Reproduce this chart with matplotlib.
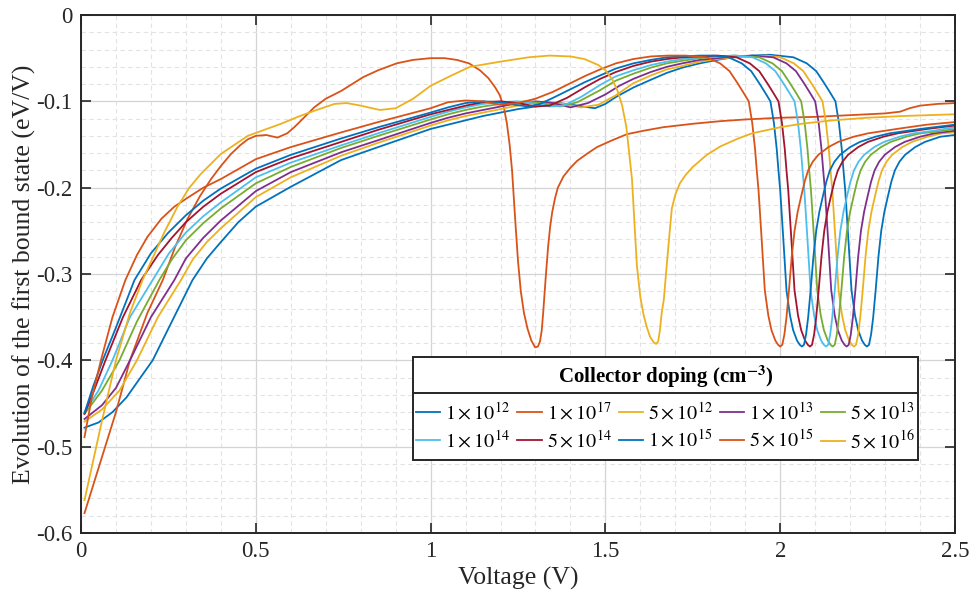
import matplotlib
matplotlib.use("Agg")
import matplotlib.pyplot as plt
from matplotlib.lines import Line2D
from matplotlib.patches import Rectangle
from matplotlib.ticker import MultipleLocator, FuncFormatter

plt.rcParams['font.family'] = ['Liberation Serif', 'DejaVu Serif']
plt.rcParams['mathtext.fontset'] = 'stix'
plt.rcParams['axes.unicode_minus'] = False

# ---------------- data ----------------
labels = [r'$1\times10^{12}$', r'$1\times10^{17}$', r'$5\times10^{12}$', r'$1\times10^{13}$', r'$5\times10^{13}$',
          r'$1\times10^{14}$', r'$5\times10^{14}$', r'$1\times10^{15}$', r'$5\times10^{15}$', r'$5\times10^{16}$']
colors = ['#0072BD', '#D95319', '#EDB120', '#7E2F8E', '#77AC30',
          '#4DBEEE', '#A2142F', '#0072BD', '#D95319', '#EDB120']
legend_title = 'Collector doping (cm$^{\\mathbf{-3}}$)'

v_1e12 = [0.01, 0.05, 0.09, 0.13, 0.17, 0.205, 0.26, 0.319, 0.36, 0.4, 0.45, 0.5, 0.6, 0.744, 0.85,
          1.0, 1.05, 1.1, 1.15, 1.2, 1.25, 1.3, 1.37, 1.42, 1.47, 1.5, 1.53, 1.58, 1.63, 1.676, 1.72, 1.77, 1.82,
          1.865, 1.92, 1.97,
          2.038, 2.076, 2.103, 2.126, 2.143, 2.158, 2.168, 2.176, 2.181, 2.186, 2.195, 2.204, 2.214, 2.223, 2.234,
          2.242, 2.248, 2.254, 2.26, 2.266, 2.273, 2.281, 2.289, 2.298, 2.308, 2.318, 2.328, 2.341, 2.357, 2.386,
          2.414, 2.458, 2.5]
y_1e12 = [-0.478, -0.472, -0.46, -0.443, -0.42, -0.40, -0.355, -0.307, -0.282, -0.263, -0.24, -0.222, -0.199,
          -0.168, -0.153,
          -0.132, -0.127, -0.122, -0.117, -0.113, -0.109, -0.106, -0.102, -0.105, -0.108, -0.103, -0.095, -0.084,
          -0.075, -0.067, -0.061, -0.056, -0.052, -0.049, -0.047, -0.046,
          -0.049, -0.056, -0.065, -0.079, -0.09, -0.1, -0.125, -0.155, -0.18, -0.203, -0.26, -0.319, -0.348,
          -0.365, -0.377, -0.382, -0.384, -0.382, -0.37, -0.35, -0.319, -0.28, -0.25, -0.228, -0.21, -0.193,
          -0.18, -0.17, -0.162, -0.153, -0.147, -0.141, -0.139]

v_1e17 = [0.01, 0.05, 0.1, 0.14, 0.19, 0.234, 0.27, 0.305, 0.34, 0.372, 0.4, 0.429, 0.455, 0.477, 0.5, 0.53,
          0.562, 0.59, 0.61, 0.64, 0.667, 0.7, 0.744, 0.807, 0.85, 0.903, 0.95, 1.0, 1.04, 1.075, 1.11, 1.141,
          1.165, 1.185, 1.198, 1.21, 1.218, 1.226, 1.233, 1.242, 1.25, 1.258, 1.267, 1.277, 1.288, 1.299, 1.307,
          1.313, 1.318, 1.322, 1.33, 1.336, 1.342, 1.348, 1.356, 1.364, 1.38, 1.4, 1.419, 1.45, 1.476, 1.52, 1.562,
          1.61, 1.665, 1.75, 1.828, 1.9, 2.0, 2.1, 2.2, 2.3, 2.343, 2.37, 2.40, 2.45, 2.5]
y_1e17 = [-0.577, -0.525, -0.46, -0.40, -0.345, -0.307, -0.268, -0.236, -0.21, -0.19, -0.175, -0.161, -0.151,
          -0.144, -0.14, -0.139, -0.142, -0.137, -0.13, -0.118, -0.107, -0.097, -0.088, -0.072, -0.064, -0.056,
          -0.052, -0.050, -0.050, -0.052, -0.056, -0.064, -0.073, -0.084, -0.093, -0.108, -0.125, -0.15, -0.18,
          -0.237, -0.285, -0.32, -0.345, -0.363, -0.377, -0.385, -0.384, -0.378, -0.365, -0.345, -0.3, -0.269,
          -0.245, -0.228, -0.212, -0.2, -0.187, -0.177, -0.169, -0.16, -0.153, -0.145, -0.138, -0.134, -0.130,
          -0.126, -0.123, -0.121, -0.119, -0.118, -0.116, -0.114, -0.112, -0.108, -0.105, -0.103, -0.102]

v_5e12 = [0.01, 0.06, 0.11, 0.16, 0.22, 0.286, 0.32, 0.36, 0.4, 0.5, 0.6, 0.744, 0.85,
          1.0, 1.05, 1.1, 1.15, 1.2, 1.26, 1.33, 1.38, 1.43, 1.48, 1.53, 1.58, 1.63, 1.676, 1.72, 1.77, 1.82, 1.87,
          1.92, 1.96,
          2.001, 2.039, 2.066, 2.089, 2.106, 2.121, 2.131, 2.139, 2.144, 2.149, 2.158, 2.167, 2.177, 2.186, 2.197,
          2.205, 2.211, 2.217, 2.223, 2.229, 2.236, 2.244, 2.252, 2.261, 2.271, 2.281, 2.291, 2.304, 2.32, 2.349,
          2.377, 2.421, 2.463, 2.5]
y_5e12 = [-0.471, -0.457, -0.435, -0.40, -0.35, -0.307, -0.283, -0.263, -0.247, -0.211, -0.188, -0.163, -0.148,
          -0.128, -0.122, -0.117, -0.113, -0.109, -0.104, -0.1, -0.103, -0.107, -0.104, -0.093, -0.079, -0.07,
          -0.063, -0.059, -0.054, -0.051, -0.049, -0.048, -0.047,
          -0.049, -0.056, -0.065, -0.079, -0.09, -0.1, -0.125, -0.155, -0.18, -0.203, -0.26, -0.319, -0.348,
          -0.365, -0.377, -0.382, -0.384, -0.382, -0.37, -0.35, -0.319, -0.28, -0.25, -0.228, -0.21, -0.193,
          -0.18, -0.17, -0.162, -0.153, -0.147, -0.141, -0.137, -0.136]

v_1e13 = [0.01, 0.06, 0.1, 0.14, 0.2, 0.267, 0.3, 0.35, 0.4, 0.5, 0.6, 0.744, 0.85,
          1.0, 1.05, 1.1, 1.15, 1.2, 1.25, 1.3, 1.35, 1.4, 1.45, 1.5, 1.54, 1.58, 1.63, 1.676, 1.72, 1.77, 1.82,
          1.87, 1.92,
          1.98, 2.018, 2.045, 2.068, 2.085, 2.1, 2.11, 2.118, 2.123, 2.128, 2.137, 2.146, 2.156, 2.165, 2.176,
          2.184, 2.19, 2.196, 2.202, 2.208, 2.215, 2.223, 2.231, 2.24, 2.25, 2.26, 2.27, 2.283, 2.299, 2.328,
          2.356, 2.4, 2.442, 2.5]
y_1e13 = [-0.468, -0.452, -0.432, -0.40, -0.35, -0.307, -0.282, -0.258, -0.238, -0.204, -0.182, -0.159, -0.145,
          -0.125, -0.119, -0.114, -0.11, -0.106, -0.102, -0.1, -0.102, -0.107, -0.102, -0.092, -0.082, -0.074,
          -0.066, -0.06, -0.056, -0.052, -0.05, -0.048, -0.047,
          -0.049, -0.056, -0.065, -0.079, -0.09, -0.1, -0.125, -0.155, -0.18, -0.203, -0.26, -0.319, -0.348,
          -0.365, -0.377, -0.382, -0.384, -0.382, -0.37, -0.35, -0.319, -0.28, -0.25, -0.228, -0.21, -0.193,
          -0.18, -0.17, -0.162, -0.153, -0.147, -0.141, -0.137, -0.134]

v_5e13 = [0.01, 0.06, 0.11, 0.16, 0.224, 0.26, 0.3, 0.35, 0.4, 0.5, 0.6, 0.744, 0.85,
          1.0, 1.05, 1.1, 1.15, 1.2, 1.27, 1.32, 1.37, 1.42, 1.485, 1.53, 1.58, 1.63, 1.676, 1.72, 1.77, 1.82, 1.87,
          1.94, 1.978, 2.005, 2.028, 2.045, 2.06, 2.07, 2.078, 2.083, 2.088, 2.097, 2.106, 2.116, 2.125, 2.136,
          2.144, 2.15, 2.156, 2.162, 2.168, 2.175, 2.183, 2.191, 2.2, 2.21, 2.22, 2.23, 2.243, 2.259, 2.288,
          2.316, 2.36, 2.402, 2.45, 2.5]
y_5e13 = [-0.462, -0.435, -0.40, -0.355, -0.307, -0.283, -0.261, -0.241, -0.224, -0.195, -0.176, -0.154, -0.14,
          -0.121, -0.115, -0.11, -0.106, -0.103, -0.1, -0.102, -0.106, -0.101, -0.087, -0.076, -0.068, -0.061,
          -0.056, -0.053, -0.05, -0.048, -0.047,
          -0.049, -0.056, -0.065, -0.079, -0.09, -0.1, -0.125, -0.155, -0.18, -0.203, -0.26, -0.319, -0.348,
          -0.365, -0.377, -0.382, -0.384, -0.382, -0.37, -0.35, -0.319, -0.28, -0.25, -0.228, -0.21, -0.193,
          -0.18, -0.17, -0.162, -0.153, -0.147, -0.141, -0.137, -0.135, -0.132]

v_1e14 = [0.01, 0.05, 0.09, 0.14, 0.205, 0.25, 0.3, 0.35, 0.4, 0.5, 0.6, 0.744, 0.85,
          1.0, 1.05, 1.1, 1.15, 1.2, 1.25, 1.3, 1.34, 1.38, 1.43, 1.485, 1.53, 1.58, 1.63, 1.676, 1.72, 1.77, 1.82,
          1.87,
          1.921, 1.959, 1.986, 2.009, 2.026, 2.041, 2.051, 2.059, 2.064, 2.069, 2.078, 2.087, 2.097, 2.106, 2.117,
          2.125, 2.131, 2.137, 2.143, 2.149, 2.156, 2.164, 2.172, 2.181, 2.191, 2.201, 2.211, 2.224, 2.24, 2.269,
          2.297, 2.341, 2.383, 2.44, 2.5]
y_1e14 = [-0.46, -0.435, -0.40, -0.35, -0.307, -0.277, -0.252, -0.233, -0.217, -0.188, -0.171, -0.151, -0.137,
          -0.118, -0.112, -0.107, -0.103, -0.101, -0.1, -0.103, -0.106, -0.105, -0.095, -0.081, -0.071, -0.064,
          -0.058, -0.054, -0.051, -0.049, -0.048, -0.047,
          -0.049, -0.056, -0.065, -0.079, -0.09, -0.1, -0.125, -0.155, -0.18, -0.203, -0.26, -0.319, -0.348,
          -0.365, -0.377, -0.382, -0.384, -0.382, -0.37, -0.35, -0.319, -0.28, -0.25, -0.228, -0.21, -0.193,
          -0.18, -0.17, -0.162, -0.153, -0.147, -0.141, -0.137, -0.134, -0.130]

v_5e14 = [0.01, 0.04, 0.07, 0.12, 0.172, 0.22, 0.26, 0.3, 0.35, 0.4, 0.5, 0.6, 0.744, 0.85,
          1.0, 1.05, 1.1, 1.15, 1.2, 1.25, 1.3, 1.34, 1.39, 1.44, 1.485, 1.53, 1.58, 1.63, 1.676, 1.72, 1.77, 1.82,
          1.875, 1.913, 1.94, 1.963, 1.98, 1.995, 2.005, 2.013, 2.018, 2.023, 2.032, 2.041, 2.051, 2.06, 2.071,
          2.079, 2.085, 2.091, 2.097, 2.103, 2.11, 2.118, 2.126, 2.135, 2.145, 2.155, 2.165, 2.178, 2.194, 2.223,
          2.251, 2.295, 2.337, 2.42, 2.5]
y_5e14 = [-0.462, -0.432, -0.40, -0.35, -0.307, -0.278, -0.258, -0.24, -0.222, -0.207, -0.182, -0.166, -0.147,
          -0.133,
          -0.115, -0.11, -0.105, -0.101, -0.1, -0.102, -0.106, -0.105, -0.096, -0.084, -0.074, -0.066, -0.059,
          -0.054, -0.051, -0.049, -0.048, -0.047,
          -0.049, -0.056, -0.065, -0.079, -0.09, -0.1, -0.125, -0.155, -0.18, -0.203, -0.26, -0.319, -0.348,
          -0.365, -0.377, -0.382, -0.384, -0.382, -0.37, -0.35, -0.319, -0.28, -0.25, -0.228, -0.21, -0.193,
          -0.18, -0.17, -0.162, -0.153, -0.147, -0.141, -0.137, -0.132, -0.128]

v_1e15 = [0.01, 0.035, 0.062, 0.1, 0.153, 0.2, 0.25, 0.3, 0.35, 0.4, 0.5, 0.6, 0.744, 0.85,
          1.0, 1.05, 1.1, 1.15, 1.2, 1.24, 1.28, 1.313, 1.35, 1.39, 1.44, 1.485, 1.53, 1.58, 1.63, 1.676, 1.72,
          1.77, 1.81,
          1.852, 1.89, 1.917, 1.94, 1.957, 1.972, 1.982, 1.99, 1.995, 2.0, 2.009, 2.018, 2.028, 2.037, 2.048,
          2.056, 2.062, 2.068, 2.074, 2.08, 2.087, 2.095, 2.103, 2.112, 2.122, 2.132, 2.142, 2.155, 2.171, 2.2,
          2.228, 2.272, 2.314, 2.4, 2.5]
y_1e15 = [-0.461, -0.43, -0.40, -0.362, -0.307, -0.276, -0.252, -0.232, -0.215, -0.201, -0.178, -0.162, -0.143,
          -0.13,
          -0.113, -0.107, -0.102, -0.1, -0.101, -0.104, -0.106, -0.103, -0.096, -0.088, -0.078, -0.07, -0.062,
          -0.056, -0.052, -0.049, -0.048, -0.047, -0.047,
          -0.049, -0.056, -0.065, -0.079, -0.09, -0.1, -0.125, -0.155, -0.18, -0.203, -0.26, -0.319, -0.348,
          -0.365, -0.377, -0.382, -0.384, -0.382, -0.37, -0.35, -0.319, -0.28, -0.25, -0.228, -0.21, -0.193,
          -0.18, -0.17, -0.162, -0.153, -0.147, -0.141, -0.137, -0.132, -0.127]

v_5e15 = [0.01, 0.03, 0.057, 0.09, 0.127, 0.16, 0.19, 0.23, 0.267, 0.3, 0.35, 0.4, 0.5, 0.6, 0.744, 0.85,
          1.0, 1.05, 1.1, 1.15, 1.2, 1.25, 1.3, 1.35, 1.39, 1.44, 1.485, 1.53, 1.58, 1.63, 1.68, 1.73,
          1.79, 1.828, 1.855, 1.878, 1.895, 1.91, 1.92, 1.928, 1.933, 1.938, 1.947, 1.956, 1.966, 1.975, 1.986,
          1.994, 2.0, 2.006, 2.012, 2.018, 2.025, 2.033, 2.041, 2.05, 2.06, 2.07, 2.08, 2.093, 2.109, 2.138,
          2.166, 2.21, 2.252, 2.35, 2.42, 2.5]
y_5e15 = [-0.489, -0.445, -0.40, -0.35, -0.307, -0.278, -0.257, -0.236, -0.222, -0.213, -0.2, -0.19, -0.167,
          -0.153, -0.136, -0.124,
          -0.108, -0.101, -0.099, -0.1, -0.104, -0.102, -0.097, -0.089, -0.081, -0.071, -0.063, -0.056, -0.051,
          -0.048, -0.047, -0.047,
          -0.049, -0.056, -0.065, -0.079, -0.09, -0.1, -0.125, -0.155, -0.18, -0.203, -0.26, -0.319, -0.348,
          -0.365, -0.377, -0.382, -0.384, -0.382, -0.37, -0.35, -0.319, -0.28, -0.25, -0.228, -0.21, -0.193,
          -0.18, -0.17, -0.162, -0.153, -0.147, -0.141, -0.137, -0.131, -0.127, -0.124]

v_5e16 = [0.01, 0.06, 0.1, 0.14, 0.176, 0.21, 0.238, 0.276, 0.31, 0.343, 0.4, 0.477, 0.572, 0.62, 0.667, 0.725,
          0.76, 0.8, 0.855, 0.9, 0.95, 1.0, 1.06, 1.113, 1.2, 1.28, 1.34, 1.40, 1.44, 1.48, 1.5, 1.52, 1.535, 1.548,
          1.56, 1.568, 1.576, 1.583, 1.59, 1.6, 1.609, 1.618, 1.628, 1.638, 1.645, 1.651, 1.656, 1.661, 1.667,
          1.675, 1.683, 1.69, 1.7, 1.713, 1.73, 1.75, 1.79, 1.83, 1.88, 1.92, 2.0, 2.06, 2.15, 2.25, 2.35, 2.5]
y_5e16 = [-0.562, -0.47, -0.40, -0.345, -0.307, -0.277, -0.252, -0.222, -0.2, -0.184, -0.161, -0.14, -0.126,
          -0.118, -0.111, -0.103, -0.102, -0.105, -0.110, -0.108, -0.097, -0.082, -0.07, -0.060, -0.054, -0.049,
          -0.047, -0.048, -0.051, -0.058, -0.064, -0.075, -0.088, -0.105, -0.13, -0.16, -0.19, -0.24, -0.29,
          -0.327, -0.347, -0.361, -0.373, -0.379, -0.381, -0.378, -0.365, -0.345, -0.33, -0.292, -0.255, -0.224,
          -0.208, -0.195, -0.185, -0.176, -0.162, -0.152, -0.143, -0.137, -0.13, -0.126, -0.122, -0.119, -0.117,
          -0.115]

series = [(v_1e12, y_1e12), (v_1e17, y_1e17), (v_5e12, y_5e12), (v_1e13, y_1e13), (v_5e13, y_5e13),
          (v_1e14, y_1e14), (v_5e14, y_5e14), (v_1e15, y_1e15), (v_5e15, y_5e15), (v_5e16, y_5e16)]

x_ticks = [0, 0.5, 1, 1.5, 2, 2.5]
y_ticks = [-0.6, -0.5, -0.4, -0.3, -0.2, -0.1, 0]

# ---------------- figure ----------------
W, H = 971, 599
fig = plt.figure(figsize=(W / 100, H / 100), dpi=100)
ax = fig.add_axes([81 / W, 1 - 533 / H, (955 - 81) / W, (533 - 15) / H])

handles = []
for (v, y), c, lab in zip(series, colors, labels):
    h, = ax.plot(v, y, color=c, lw=1.3, label=lab, solid_joinstyle='round')
    handles.append(h)

ax.set_xlim(0, 2.5)
ax.set_ylim(-0.6, 0)
ax.set_xticks(x_ticks)
ax.set_yticks(y_ticks)
ax.xaxis.set_minor_locator(MultipleLocator(0.1))
ax.yaxis.set_minor_locator(MultipleLocator(0.02))
ax.xaxis.set_major_formatter(FuncFormatter(lambda v, p: ('%g' % v)))
ax.yaxis.set_major_formatter(FuncFormatter(lambda v, p: ('%g' % v) if abs(v) > 1e-9 else '0'))

ax.grid(which='major', color='#d4d4d4', lw=0.9, ls='-')
ax.grid(which='minor', color='#e3e3e3', lw=0.8, ls=(0, (4, 3)))
ax.set_axisbelow(True)
ax.tick_params(which='major', direction='in', length=7, width=1.2, top=True, right=True,
               labelsize=16.5, colors='#262626', pad=6)
ax.tick_params(which='minor', length=0)
for s in ax.spines.values():
    s.set_color('#262626')
    s.set_linewidth(1.4)

ax.set_xlabel('Voltage (V)', fontsize=18.5, color='#262626', labelpad=3)
ax.set_ylabel('Evolution of the first bound state (eV/V)', fontsize=18.5, color='#262626', labelpad=0)

# ---- legend box (frame, title, separator) ----
bx0, bx1, by0, by1, ysep_px, ytitle_px = 413, 918, 357, 460, 393, 377
tf = fig.transFigure
box = Rectangle((bx0 / W, 1 - by1 / H), (bx1 - bx0) / W, (by1 - by0) / H, transform=tf,
                facecolor='white', edgecolor='#262626', lw=1.4, zorder=4.5, clip_on=False)
ax.add_patch(box)
sep = Line2D([bx0 / W, bx1 / W], [1 - ysep_px / H, 1 - ysep_px / H], transform=tf,
             color='#262626', lw=1.4, zorder=6, clip_on=False)
ax.add_line(sep)
ax.text((bx0 + bx1) / 2 / W, 1 - ytitle_px / H, legend_title, transform=tf, ha='center', va='center',
        fontsize=15, fontweight='bold', color='black', zorder=6)

# entries: row-wise ordering with 5 columns
order = [0, 5, 1, 6, 2, 7, 3, 8, 4, 9]
leg = ax.legend([handles[i] for i in order], [labels[i] for i in order], ncol=5,
                loc='center', bbox_to_anchor=((bx0 + bx1) / 2 / W, 1 - ((ysep_px + by1) / 2 + 1) / H),
                bbox_transform=tf, fontsize=14.5, frameon=False,
                handlelength=1.2, handletextpad=0.25, columnspacing=0.36,
                labelspacing=0.32, borderpad=0.0, borderaxespad=0)
leg.set_zorder(6)

fig.savefig('out.png', dpi=100)
